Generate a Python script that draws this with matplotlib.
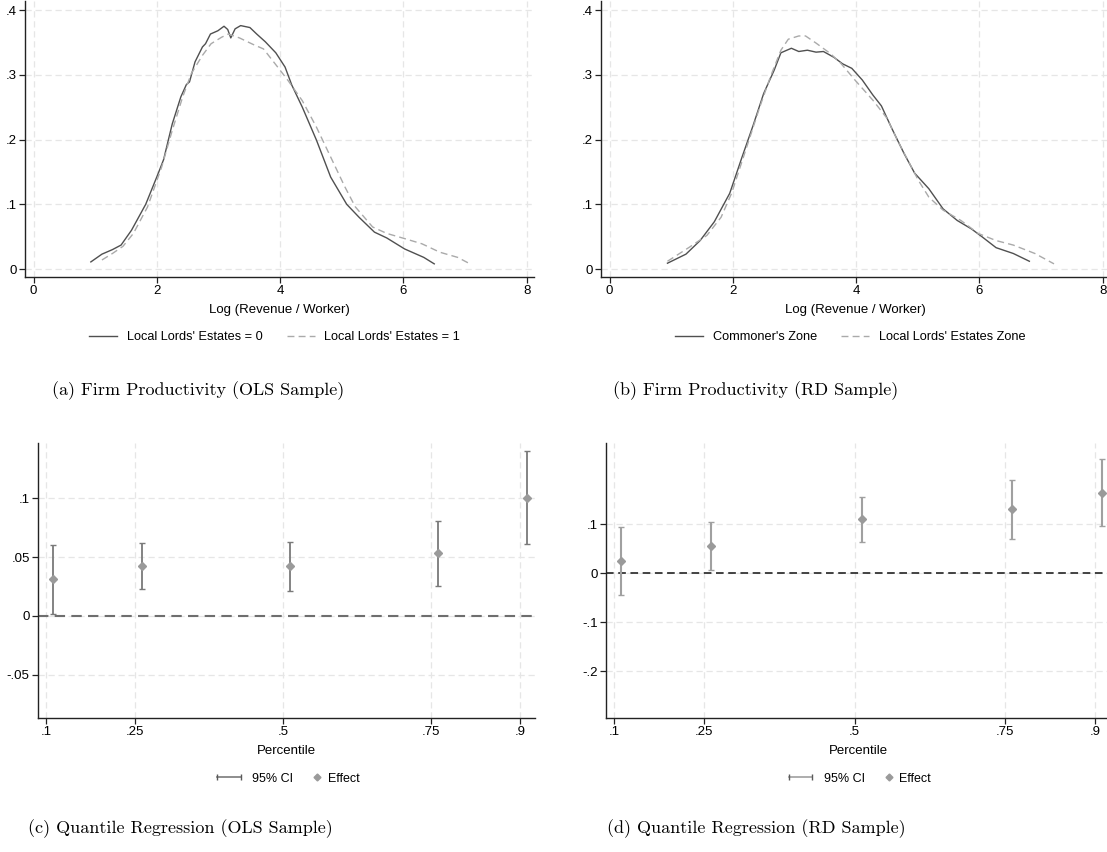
import matplotlib
matplotlib.use("Agg")
import matplotlib.pyplot as plt
from matplotlib.lines import Line2D
from matplotlib.legend_handler import HandlerLine2D

plt.rcParams['font.family'] = ['Liberation Sans', 'DejaVu Sans']

# --- (a) kernel densities, OLS sample ---
ols_x0 = [0.93, 1.11, 1.28, 1.42, 1.59, 1.82, 2.02, 2.11, 2.25, 2.39, 2.48, 2.53, 2.62, 2.74, 2.79,
          2.87, 2.99, 3.09, 3.15, 3.20, 3.27, 3.36, 3.51, 3.62, 3.76, 3.93, 4.08, 4.19, 4.36, 4.59,
          4.82, 5.08, 5.28, 5.53, 5.73, 6.02, 6.33, 6.50]
ols_y0 = [0.011, 0.023, 0.030, 0.037, 0.060, 0.100, 0.147, 0.169, 0.224, 0.266, 0.285, 0.289, 0.320,
          0.343, 0.348, 0.363, 0.368, 0.375, 0.370, 0.357, 0.371, 0.376, 0.373, 0.363, 0.351, 0.334,
          0.312, 0.284, 0.250, 0.199, 0.142, 0.100, 0.080, 0.057, 0.048, 0.031, 0.018, 0.008]
ols_x1 = [1.11, 1.28, 1.45, 1.62, 1.85, 2.08, 2.25, 2.42, 2.56, 2.74, 2.88, 3.05, 3.16, 3.34, 3.56,
          3.73, 3.96, 4.13, 4.36, 4.59, 4.82, 5.05, 5.22, 5.50, 5.73, 6.02, 6.30, 6.59, 6.88, 7.08]
ols_y1 = [0.014, 0.024, 0.035, 0.055, 0.096, 0.158, 0.214, 0.266, 0.302, 0.330, 0.348, 0.358, 0.363,
          0.357, 0.347, 0.340, 0.312, 0.291, 0.260, 0.219, 0.173, 0.127, 0.096, 0.065, 0.055, 0.047,
          0.039, 0.026, 0.018, 0.008]

# --- (b) kernel densities, RD sample ---
rd_x0 = [0.94, 1.24, 1.47, 1.70, 1.95, 2.15, 2.33, 2.50, 2.67, 2.78, 2.95, 3.07, 3.21, 3.35, 3.47,
         3.64, 3.78, 3.93, 4.10, 4.27, 4.41, 4.58, 4.78, 4.95, 5.18, 5.41, 5.64, 5.87, 6.04, 6.27,
         6.55, 6.81]
rd_y0 = [0.009, 0.023, 0.044, 0.073, 0.117, 0.173, 0.222, 0.271, 0.307, 0.334, 0.341, 0.336, 0.338,
         0.335, 0.336, 0.327, 0.317, 0.310, 0.292, 0.269, 0.252, 0.217, 0.178, 0.148, 0.124, 0.093,
         0.075, 0.062, 0.050, 0.033, 0.024, 0.012]
rd_x1 = [0.94, 1.30, 1.58, 1.81, 1.98, 2.21, 2.44, 2.61, 2.78, 2.90, 3.07, 3.18, 3.35, 3.58, 3.75,
         3.98, 4.27, 4.50, 4.67, 4.84, 5.01, 5.18, 5.41, 5.70, 5.98, 6.27, 6.55, 6.90, 7.21]
rd_y1 = [0.012, 0.034, 0.052, 0.080, 0.117, 0.184, 0.251, 0.297, 0.338, 0.355, 0.360, 0.360, 0.349,
         0.333, 0.318, 0.292, 0.261, 0.233, 0.199, 0.168, 0.137, 0.111, 0.091, 0.075, 0.055, 0.044,
         0.037, 0.024, 0.008]

dens_ticks = [0, 2, 4, 6, 8]
dens_yticks = [0, 0.1, 0.2, 0.3, 0.4]
dens_yticklabels = ["0", ".1", ".2", ".3", ".4"]

# --- (c)/(d) quantile regressions ---
qr_ticks = [0.1, 0.25, 0.5, 0.75, 0.9]
qr_ticklabels = [".1", ".25", ".5", ".75", ".9"]
qr_pos = [0.112, 0.262, 0.512, 0.762, 0.912]

ols_eff = [0.031, 0.0425, 0.042, 0.053, 0.100]
ols_lo = [0.002, 0.0227, 0.021, 0.0255, 0.061]
ols_hi = [0.060, 0.0623, 0.063, 0.0805, 0.140]
ols_yticks = [-0.05, 0, 0.05, 0.1]
ols_yticklabels = ["-.05", "0", ".05", ".1"]

rd_eff = [0.0245, 0.056, 0.111, 0.131, 0.165]
rd_lo = [-0.044, 0.006, 0.065, 0.070, 0.097]
rd_hi = [0.095, 0.105, 0.156, 0.191, 0.233]
rd_yticks = [-0.2, -0.1, 0, 0.1]
rd_yticklabels = ["-.2", "-.1", "0", ".1"]

captions = ["(a) Firm Productivity (OLS Sample)", "(b) Firm Productivity (RD Sample)",
            "(c) Quantile Regression (OLS Sample)", "(d) Quantile Regression (RD Sample)"]

W, H = 1107, 852
fig = plt.figure(figsize=(W / 100, H / 100), dpi=100)


class HandlerEnd(HandlerLine2D):
    # single marker drawn near the right end of the handle (Stata style)
    def get_xdata(self, legend, xdescent, ydescent, width, height, fontsize):
        right = -xdescent + width
        xdata = [right - 0.5 * fontsize, right]
        return xdata, [right - 0.25 * fontsize]


def box(left, top, right, bottom):
    return [left / W, 1 - bottom / H, (right - left) / W, (bottom - top) / H]


def style(ax):
    for s in ("top", "right"):
        ax.spines[s].set_visible(False)
    for s in ("left", "bottom"):
        ax.spines[s].set_color("#222222")
        ax.spines[s].set_linewidth(1.0)
    ax.grid(True, color="#e6e6e6", ls=(0, (5, 3)), lw=0.9)
    ax.set_axisbelow(True)
    ax.tick_params(direction="out", length=4, width=0.9, color="#222222",
                   labelsize=9.5, pad=2)


ax_a = fig.add_axes(box(25, 1, 534, 277))
ax_b = fig.add_axes(box(601, 1, 1110, 277))
ax_c = fig.add_axes(box(38, 443, 535, 718))
ax_d = fig.add_axes(box(606, 443, 1110, 718))

dens = [(ax_a, ols_x0, ols_y0, ols_x1, ols_y1,
         ["Local Lords' Estates = 0", "Local Lords' Estates = 1"]),
        (ax_b, rd_x0, rd_y0, rd_x1, rd_y1,
         ["Commoner's Zone", "Local Lords' Estates Zone"])]
for ax, x0, y0, x1, y1, labs in dens:
    style(ax)
    l0, = ax.plot(x0, y0, color="#505050", lw=1.0)
    l1, = ax.plot(x1, y1, color="#aaaaaa", lw=1.0, ls=(0, (5, 3)))
    ax.set_xlim(-0.138, 8.118)
    ax.set_ylim(-0.0123, 0.414)
    ax.set_xticks(dens_ticks)
    ax.set_yticks(dens_yticks)
    ax.set_yticklabels(dens_yticklabels)
    ax.set_xlabel("Log (Revenue / Worker)", fontsize=9.5)
    ax.xaxis.set_label_coords(0.5, -0.12)
    ax.xaxis.label.set_va("center")
    ax.legend([l0, l1], labs, loc="center", bbox_to_anchor=(0.49, -0.218), ncol=2,
              frameon=False, fontsize=9.2, handlelength=2.2, handletextpad=0.75,
              columnspacing=1.9)

qr = [(ax_c, ols_eff, ols_lo, ols_hi, ols_yticks, ols_yticklabels, (-0.0867, 0.1468),
       "#7a7a7a", 1.3, "#6e6e6e", 1.5),
      (ax_d, rd_eff, rd_lo, rd_hi, rd_yticks, rd_yticklabels, (-0.295, 0.266),
       "#a0a0a0", 1.5, "#111111", 1.1)]
for ax, eff, lo, hi, yt, ytl, ylim, barc, barw, zc, zw in qr:
    style(ax)
    ax.axhline(0, color=zc, lw=zw, ls=(0, (5, 3)), zorder=1.5)
    yerr = [[e - l for e, l in zip(eff, lo)], [h - e for e, h in zip(eff, hi)]]
    _, caps, _ = ax.errorbar(qr_pos, eff, yerr=yerr, fmt="none", ecolor=barc,
                             elinewidth=barw, capsize=2, capthick=1.0, zorder=3)
    for c in caps:
        c.set_color("#5a5a5a")
    ax.plot(qr_pos, eff, ls="none", marker="D", color="#9a9a9a", markersize=4, zorder=4)
    ax.set_xlim(0.0865, 0.925)
    ax.set_ylim(*ylim)
    ax.set_xticks(qr_ticks)
    ax.set_xticklabels(qr_ticklabels)
    ax.set_yticks(yt)
    ax.set_yticklabels(ytl)
    ax.set_xlabel("Percentile", fontsize=9.5)
    ax.xaxis.set_label_coords(0.5, -0.12)
    ax.xaxis.label.set_va("center")
    h_ci = Line2D([], [], color=barc, lw=1.2, marker="|", markersize=5,
                  markeredgecolor="#5a5a5a")
    h_eff = Line2D([], [], ls="none", marker="D", color="#9a9a9a", markersize=3.5)
    ax.legend([h_ci, h_eff], ["95% CI", "Effect"], loc="center",
              bbox_to_anchor=(0.5, -0.22), ncol=2, frameon=False, fontsize=9,
              handlelength=2.5, handletextpad=0.6, columnspacing=-0.3,
              handler_map={h_ci: HandlerLine2D(numpoints=2),
                           h_eff: HandlerEnd(numpoints=1)})

cap_pos = [(198, 391), (756, 391), (180, 829), (756, 829)]
for (cx, cy), txt in zip(cap_pos, captions):
    fig.text(cx / W, 1 - cy / H, txt, ha="center", va="center",
             fontfamily="cmr10", fontsize=13)

fig.savefig("out.png", dpi=100)
